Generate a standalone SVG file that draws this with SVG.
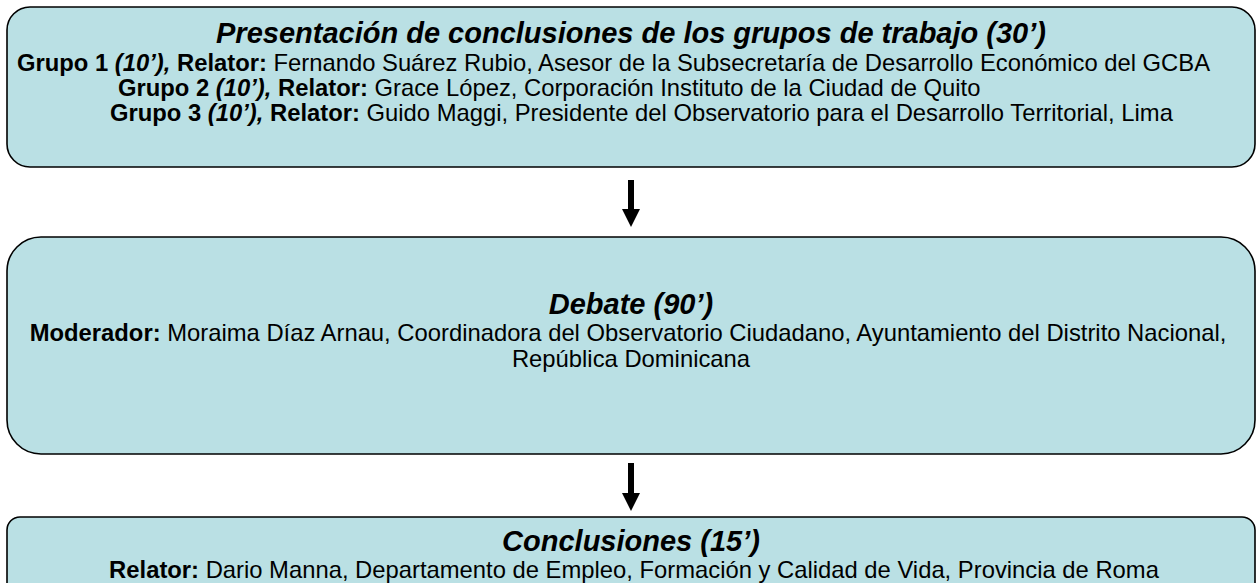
<svg xmlns="http://www.w3.org/2000/svg" width="1257" height="583" viewBox="0 0 1257 583">
<defs>
<style>
.box{fill:#BAE0E4;stroke:#000;stroke-width:1.6}
text{font-family:"Liberation Sans",Arial,sans-serif;fill:#000}
.t{font-size:29px;font-weight:bold;font-style:italic}
.b{font-size:23.8px}
.bd{font-weight:bold}
.bi{font-weight:bold;font-style:italic}
.conn{stroke:#000;stroke-width:6;fill:none}
</style>
<marker id="ah" markerUnits="userSpaceOnUse" markerWidth="18" markerHeight="18" viewBox="0 0 18 18" refX="0" refY="9" orient="auto">
<path d="M0,0 L18,9 L0,18 Z" fill="#000"/>
</marker>
</defs>
<rect width="1257" height="583" fill="#fff"/>
<g id="node-presentacion">
<rect class="box" x="7" y="7" width="1248" height="160" rx="23" ry="23"/>
<text class="t" x="631" y="43" text-anchor="middle">Presentación de conclusiones de los grupos de trabajo (30’)</text>
<text class="b" x="17" y="71"><tspan class="bd">Grupo 1 </tspan><tspan class="bi">(10’),</tspan><tspan class="bd"> Relator:</tspan> Fernando Suárez Rubio, Asesor de la Subsecretaría de Desarrollo Económico del GCBA</text>
<text class="b" x="118" y="96"><tspan class="bd">Grupo 2 </tspan><tspan class="bi">(10’),</tspan><tspan class="bd"> Relator:</tspan> Grace López, Corporación Instituto de la Ciudad de Quito</text>
<text class="b" x="110" y="121"><tspan class="bd">Grupo 3 </tspan><tspan class="bi">(10’),</tspan><tspan class="bd"> Relator:</tspan> Guido Maggi, Presidente del Observatorio para el Desarrollo Territorial, Lima</text>
</g>
<g id="node-debate">
<rect class="box" x="7" y="237" width="1248" height="217" rx="34" ry="34"/>
<text class="t" x="631" y="314" text-anchor="middle">Debate (90’)</text>
<text class="b" x="628" y="341" text-anchor="middle"><tspan class="bd">Moderador:</tspan> Moraima Díaz Arnau, Coordinadora del Observatorio Ciudadano, Ayuntamiento del Distrito Nacional,</text>
<text class="b" x="631" y="367" text-anchor="middle">República Dominicana</text>
</g>
<g id="node-conclusiones">
<rect class="box" x="7" y="517" width="1248" height="90" rx="13" ry="13"/>
<text class="t" x="631" y="551" text-anchor="middle">Conclusiones (15’)</text>
<text class="b" x="634" y="578" text-anchor="middle"><tspan class="bd">Relator:</tspan> Dario Manna, Departamento de Empleo, Formación y Calidad de Vida, Provincia de Roma</text>
</g>
<g id="connectors">
<line class="conn" x1="631" y1="180" x2="631" y2="209" marker-end="url(#ah)"/>
<line class="conn" x1="631" y1="463" x2="631" y2="493" marker-end="url(#ah)"/>
</g>
</svg>
